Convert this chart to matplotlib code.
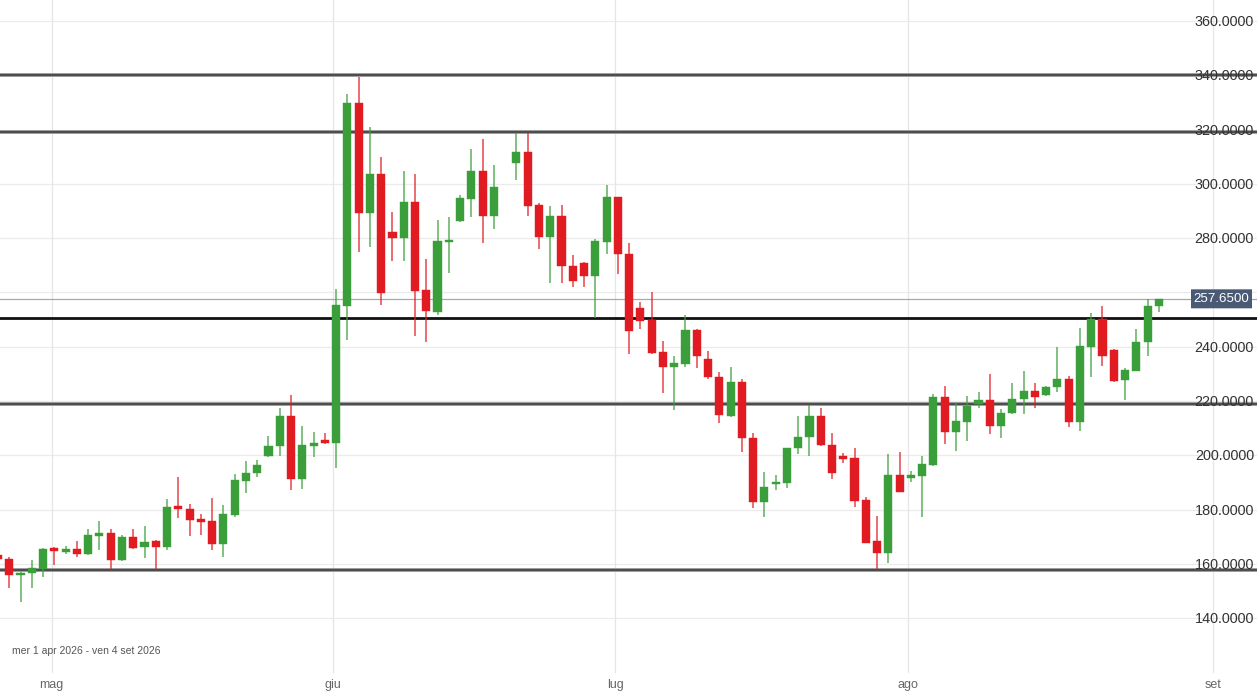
import matplotlib
matplotlib.use("Agg")
import matplotlib.pyplot as plt
from matplotlib.patches import FancyBboxPatch
import matplotlib.transforms as mtransforms

plt.rcParams['font.family'] = ['Liberation Sans', 'DejaVu Sans']

# ---- data (daily candles, one slot per bar; None = missing bar) ----
opens = [163.2, 161.7, 155.9, 156.7, 158.2, 165.3, 164.3, 165.6, 163.5, 170.3,
         171.35, 161.3, 169.9, 166.3, 168.3, 166.3, 181.3, 180.3, 176.1, 175.8,
         167.4, 178.1, 190.6, 193.35, 199.6, 203.5, 214.6, 191.1, 203.5, 205.6,
         204.4, 255.0, 329.7, 289.15, 303.6, 282.4, 280.2, 293.2, 260.9, 252.9,
         278.6, 286.3, 294.55, 304.7, 288.3, None, 307.8, 311.85, 292.1, 280.5,
         288.15, 269.85, 270.95, 266.05, 278.7, 295.05, 274.15, 254.15, 249.85, 237.9,
         232.6, 233.6, 246.1, 235.35, 228.9, 214.5, 227.1, 206.25, 182.9, 189.3,
         189.9, 202.55, 206.85, 214.45, 203.9, 199.8, 198.85, 183.5, 168.4, 164.1,
         192.7, 191.7, 192.45, 196.4, 221.55, 208.7, 212.4, 218.9, 220.35, 210.8,
         215.4, 220.6, 223.65, 222.2, 225.0, 228.1, 212.4, 240.0, 250.1, 238.8,
         227.7, 231.15, 241.6, 255.0]
highs = [164.0, 162.6, 157.0, 161.4, 165.7, 166.1, 166.5, 168.3, 172.8, 175.8,
         172.7, 170.7, 172.8, 174.0, 168.7, 183.9, 192.1, 182.0, 178.2, 184.4,
         181.5, 193.1, 198.0, 198.2, 207.1, 217.3, 222.2, 210.8, 208.7, 208.1,
         261.25, 333.0, 339.25, 321.1, 310.0, 289.75, 304.7, 303.75, 272.3, 286.7,
         287.7, 295.8, 312.7, 316.5, 306.95, None, 318.6, 318.6, 292.8, 291.85,
         292.2, 273.8, 271.2, 279.6, 299.6, 295.3, 278.1, 256.6, 260.0, 242.1,
         236.7, 251.7, 246.5, 238.5, 230.8, 232.4, 228.1, 208.1, 193.7, 192.7,
         202.8, 214.45, 218.5, 217.3, 208.3, 200.7, 202.8, 184.5, 177.6, 200.45,
         201.1, 194.3, 199.7, 222.45, 225.5, 219.1, 221.8, 223.4, 229.8, 216.9,
         226.5, 231.15, 226.5, 225.5, 239.8, 229.2, 246.75, 252.5, 255.0, 239.0,
         232.3, 246.4, 257.45, 257.7]
lows = [160.5, 151.2, 146.0, 151.2, 155.2, 159.4, 163.5, 162.4, 163.3, 165.0,
        157.7, 161.0, 165.5, 162.2, 157.7, 165.0, 177.0, 170.4, 170.6, 165.1,
        162.6, 177.3, 186.0, 192.1, 199.4, 199.8, 187.2, 187.4, 199.2, 204.2,
        195.2, 242.5, 275.0, 276.8, 255.35, 271.7, 271.7, 244.05, 241.85, 251.7,
        267.25, 286.0, 287.9, 278.1, 283.25, None, 301.4, 288.15, 275.9, 263.35,
        263.6, 262.1, 262.1, 250.45, 274.05, 266.7, 237.2, 246.4, 237.3, 222.8,
        216.7, 232.4, 232.0, 228.0, 211.8, 214.0, 201.3, 180.45, 177.35, 187.2,
        187.8, 200.45, 199.7, 203.5, 191.25, 197.0, 181.0, 167.5, 157.7, 160.2,
        186.3, 190.25, 177.35, 196.0, 204.0, 201.65, 205.35, 217.5, 207.7, 206.5,
        215.2, 215.1, 217.3, 222.0, 223.4, 210.5, 209.05, 228.9, 233.0, 227.1,
        220.35, 231.0, 236.55, 252.9]
closes = [161.6, 155.9, 156.7, 158.3, 165.4, 164.8, 165.4, 163.5, 170.5, 171.5,
          161.3, 170.0, 165.9, 168.0, 166.3, 181.0, 180.2, 176.1, 175.5, 167.3,
          178.3, 190.9, 193.35, 196.4, 203.5, 214.6, 191.1, 203.75, 204.4, 204.4,
          255.25, 329.7, 289.15, 303.6, 259.9, 280.2, 293.2, 260.6, 253.15, 278.9,
          279.3, 294.7, 304.7, 288.3, 298.7, None, 311.85, 291.85, 280.3, 288.15,
          269.7, 264.3, 266.05, 278.9, 295.05, 274.05, 245.9, 249.6, 237.8, 232.6,
          233.9, 246.0, 236.7, 228.7, 214.7, 227.1, 206.25, 182.9, 188.2, 190.25,
          202.55, 206.85, 214.45, 203.8, 193.35, 198.6, 183.1, 167.75, 164.1, 192.7,
          186.55, 192.7, 196.65, 221.55, 208.7, 212.75, 218.25, 220.35, 210.8, 215.65,
          220.7, 223.65, 221.55, 225.0, 228.1, 212.4, 240.25, 250.1, 236.55, 227.5,
          231.4, 241.85, 255.0, 257.65]

level_lines = [340.0, 319.0, 218.9, 157.7]
key_level = 250.5
last_price = 257.65
y_ticks = [140, 160, 180, 200, 220, 240, 260, 280, 300, 320, 340, 360]
y_tick_labels_hidden = [260]
month_labels = ["mag", "giu", "lug", "ago", "set"]
month_tick_pos = [4.75, 29.75, 54.77, 80.75, 107.8]
range_text = "mer 1 apr 2026 - ven 4 set 2026"

# ---- style ----
GREEN = "#3a9f3a"
RED = "#e01c22"
W, H, DPI = 12.57, 6.93, 100

fig = plt.figure(figsize=(W, H), dpi=DPI, facecolor="white")
ax = fig.add_axes([0, 0, 1, 1])
ax.set_facecolor("white")
ax.set_xlim(0.1775, 111.71)
ax.set_ylim(112.41, 367.75)
for s in ax.spines.values():
    s.set_visible(False)
ax.set_xticks([])
ax.set_yticks([])

# grid
for yv in y_ticks:
    ax.axhline(yv, color="#ebebeb", lw=0.9, zorder=0)
for xp in month_tick_pos:
    ax.axvline(xp, ymin=0.03, ymax=1, color="#e6e6e6", lw=0.9, zorder=0)

# level lines
for lv in level_lines:
    ax.axhline(lv, color="#9a9a9a", lw=2.8, zorder=1)
    ax.axhline(lv, color="#454545", lw=1.3, zorder=1)
ax.axhline(key_level, color="#111111", lw=2.0, zorder=1)
ax.axhline(last_price, color="#a8a8a8", lw=0.9, zorder=1)

# candles
bw = 0.72
for i, (o, h, l, c) in enumerate(zip(opens, highs, lows, closes)):
    if o is None:
        continue
    col = GREEN if c >= o else RED
    ax.vlines(i, l, h, color=col, lw=1.2, alpha=0.75, zorder=2)
    bottom = min(o, c)
    height = max(abs(c - o), 0.9)
    ax.bar(i, height, bottom=bottom, width=bw, color=col, edgecolor=col,
           linewidth=0.3, zorder=3)

# y labels (inside, right)
trans = mtransforms.blended_transform_factory(ax.transAxes, ax.transData)
for yv in y_ticks:
    if yv in y_tick_labels_hidden:
        continue
    ax.text(0.9976, yv - 0.4, f"{yv:.4f}", transform=trans, ha="right",
            va="center", fontsize=10.4, color="#333333", zorder=5)

# last price tag
tag = FancyBboxPatch((1191 / 1257, last_price - 3.5), 61 / 1257, 7.0,
                     boxstyle="round,pad=0,rounding_size=0.003",
                     transform=trans, facecolor="#4a5a74", edgecolor="none",
                     zorder=6, mutation_aspect=1)
ax.add_patch(tag)
ax.text(1221.5 / 1257, last_price, f"{last_price:.4f}", transform=trans,
        ha="center", va="center", fontsize=9.6, color="white",
        zorder=7)

# month labels
transx = mtransforms.blended_transform_factory(ax.transData, ax.transAxes)
for xp, lab in zip(month_tick_pos, month_labels):
    ax.text(xp, 1 - 685 / 693, lab, transform=transx, ha="center",
            va="center", fontsize=9.0, color="#666666", zorder=5)

ax.text(12 / 1257, 1 - 651 / 693, range_text, transform=ax.transAxes,
        ha="left", va="center", fontsize=7.5, color="#555555", zorder=5)

fig.savefig("out.png", dpi=DPI, facecolor="white")
